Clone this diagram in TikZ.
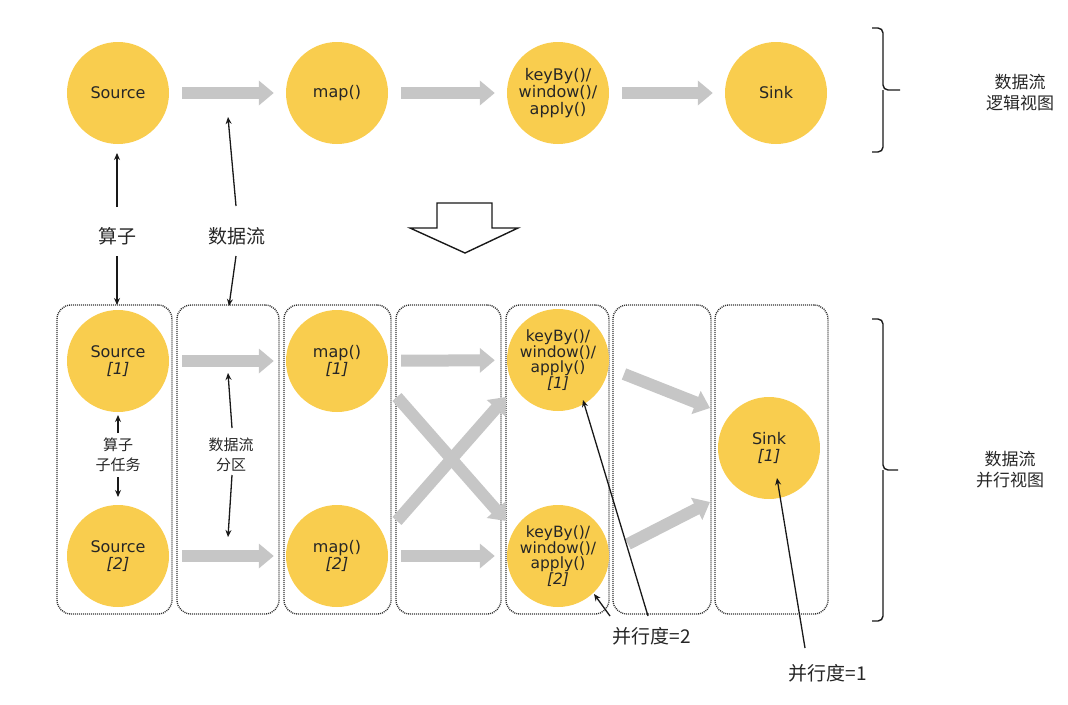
\documentclass[tikz,border=0pt]{standalone}
\usepackage{fontspec}
\setmainfont{DejaVu Sans}
\newfontfamily\cjk{Noto Sans CJK SC}
\usetikzlibrary{arrows.meta,calc}
\definecolor{opyellow}{HTML}{F9CD4E}
\definecolor{flowgray}{HTML}{C6C6C6}
\definecolor{txt}{HTML}{262626}
\begin{document}
\begin{tikzpicture}[x=1pt,y=-1pt,
  op/.style={circle,fill=opyellow,minimum size=102pt,inner sep=0pt,align=center,
    font=\fontsize{16}{17}\selectfont,text=txt},
  opsmall/.style={op,font=\fontsize{15.5}{15.5}\selectfont},
  flow/.style={draw=flowgray,line width=12pt,-{Triangle[length=15pt,width=24pt]},
    shorten <=13pt,shorten >=12pt},
  ptr/.style={draw=black!90,line width=1.3pt,-{Stealth[length=7pt,width=6pt]}},
  lane/.style={draw=black!80,line width=1.4pt,dash pattern=on 1pt off 1pt,
    rounded corners=14pt,minimum height=309pt,inner sep=0pt},
  cjklab/.style={font=\cjk\fontsize{19}{21}\selectfont,text=txt,align=center,inner sep=1pt},
  cjksmall/.style={font=\cjk\fontsize{15}{20}\selectfont,text=txt,align=center,inner sep=1pt},
  viewlab/.style={font=\cjk\fontsize{17}{21}\selectfont,text=txt,align=center},
  brace/.style={draw=black!90,line width=1.4pt,rounded corners=5pt}]
\useasboundingbox (0,0) rectangle (1068,704);

% ---------- logical view ----------
\node[op] (src) at (118,93) {Source};
\node[op] (map) at (337,93) {map()};
\node[op] (kb)  at (558,93) {keyBy()/\\window()/\\apply()};
\node[op] (sink) at (776,93) {Sink};
\draw[flow] (src) -- (map);
\draw[flow] (map) -- (kb);
\draw[flow] (kb) -- (sink);

\draw[brace] (872,28) -| (883,90) -- (900,90);
\draw[brace] (883,90) |- (872,152);
\node[viewlab] (lv) at (1020,93) {数据流\\逻辑视图};

% labels between
\node[cjklab] (suanzi) at (117,236) {算子};
\node[cjklab] (sjl) at (237,236) {数据流};

% hollow arrow
\draw[line width=1.4pt,black!90,fill=white] (437,203) -- (492,203) -- (492,228) -- (518,228)
  -- (465,253) -- (410,228) -- (437,228) -- cycle;

% ---------- parallel view ----------
\node[lane,minimum width=115pt] (l1) at (114.5,459.5) {};
\node[lane,minimum width=102pt] (l2) at (228,459.5) {};
\node[lane,minimum width=107pt] (l3) at (337.5,459.5) {};
\node[lane,minimum width=105pt] (l4) at (448.5,459.5) {};
\node[lane,minimum width=103pt] (l5) at (557.5,459.5) {};
\node[lane,minimum width=98pt]  (l6) at (662,459.5) {};
\node[lane,minimum width=113pt] (l7) at (771.5,459.5) {};

\node[op] (s1) at (118,361) {Source\\\textit{[1]}};
\node[op] (s2) at (118,556) {Source\\\textit{[2]}};
\node[op] (m1) at (337,361) {map()\\\textit{[1]}};
\node[op] (m2) at (337,556) {map()\\\textit{[2]}};
\node[opsmall] (k1) at (558,360) {keyBy()/\\window()/\\apply()\\\textit{[1]}};
\node[opsmall] (k2) at (558,556) {keyBy()/\\window()/\\apply()\\\textit{[2]}};
\node[op] (sk) at (769,448) {Sink\\\textit{[1]}};

\draw[flow] (s1) -- (m1);
\draw[flow] (s2) -- (m2);
\draw[flow] (m1) -- (k1);
\draw[flow] (m2) -- (k2);
\coordinate (xa1) at (397,397);
\coordinate (xa2) at (506,521);
\coordinate (xb1) at (397,521);
\coordinate (xb2) at (506,397);
\draw[flow,shorten <=0pt,shorten >=0pt] (xa1) -- (xa2);
\draw[flow,shorten <=0pt,shorten >=0pt] (xb1) -- (xb2);
\coordinate (ka) at (624,374);
\coordinate (kaE) at (710,408);
\coordinate (kb2s) at (628,544);
\coordinate (kbE) at (710,502);
\draw[flow,shorten <=0pt,shorten >=0pt] (ka) -- (kaE);
\draw[flow,shorten <=0pt,shorten >=0pt] (kb2s) -- (kbE);

\draw[brace] (872,319) -| (883,470) -- (898,470);
\draw[brace] (883,470) |- (872,621);
\node[viewlab] (pv) at (1010,470) {数据流\\并行视图};

% small labels inside lanes
\node[cjksmall] (ztask) at (118,455) {算子\\子任务};
\node[cjksmall] (part) at (231,455) {数据流\\分区};

\node[font=\cjk\fontsize{19}{21}\selectfont,text=txt] (p2) at (652,636) {并行度=2};
\node[font=\cjk\fontsize{19}{21}\selectfont,text=txt] (p1) at (828,673) {并行度=1};

% pointer arrows
\coordinate (a1) at (117,207);
\coordinate (a2) at (117,153);
\coordinate (a3) at (117,256);
\coordinate (a4) at (117,305);
\draw[ptr] (a1) -- (a2);
\draw[ptr] (a3) -- (a4);
\coordinate (b1) at (236,206);
\coordinate (b2) at (228,117);
\coordinate (b3) at (236,256);
\coordinate (b4) at (229,306);
\draw[ptr] (b1) -- (b2);
\draw[ptr] (b3) -- (b4);

\coordinate (c1) at (118,433);
\coordinate (c2) at (118,415);
\coordinate (c3) at (118,477);
\coordinate (c4) at (118,497);
\draw[ptr] (c1) -- (c2);
\draw[ptr] (c3) -- (c4);
\coordinate (d1) at (232,428);
\coordinate (d2) at (228,373);
\coordinate (d3) at (232,475);
\coordinate (d4) at (228,537);
\draw[ptr] (d1) -- (d2);
\draw[ptr] (d3) -- (d4);

\coordinate (e1) at (648,616);
\coordinate (e2) at (583,400);
\coordinate (e3) at (610,616);
\coordinate (e4) at (594,594);
\draw[ptr] (e1) -- (e2);
\draw[ptr] (e3) -- (e4);
\coordinate (f1) at (805,648);
\coordinate (f2) at (777,478);
\draw[ptr] (f1) -- (f2);
\end{tikzpicture}
\end{document}
